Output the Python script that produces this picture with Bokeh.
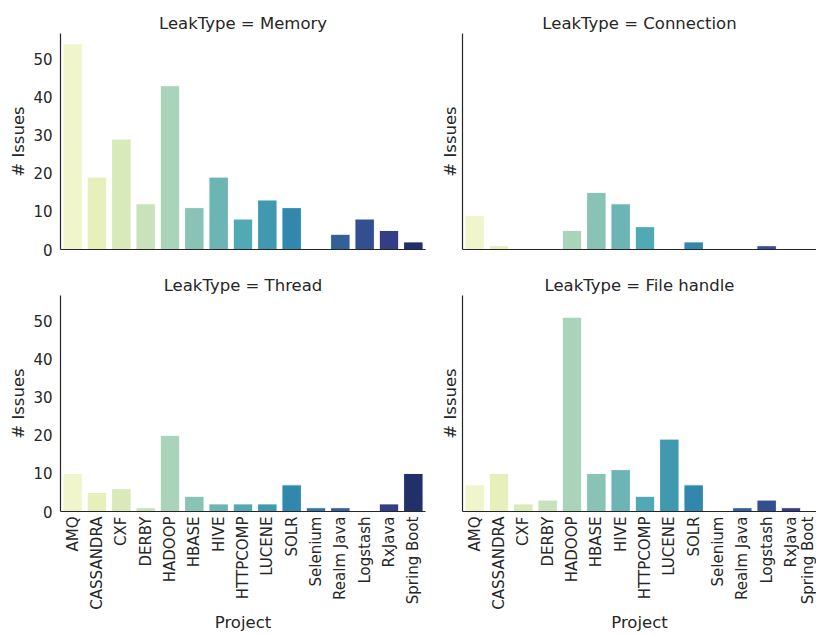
import math
import colorsys
from bokeh.plotting import figure
from bokeh.models import Range1d, FixedTicker
from bokeh.layouts import row, column
from bokeh.embed import file_html
from bokeh.resources import INLINE

projects = ["AMQ", "CASSANDRA", "CXF", "DERBY", "HADOOP", "HBASE", "HIVE", "HTTPCOMP",
            "LUCENE", "SOLR", "Selenium", "Realm Java", "Logstash", "RxJava", "Spring Boot"]
memory = [54, 19, 29, 12, 43, 11, 19, 8, 13, 11, 0, 4, 8, 5, 2]
connection = [9, 1, 0, 0, 5, 15, 12, 6, 0, 2, 0, 0, 1, 0, 0]
thread = [10, 5, 6, 1, 20, 4, 2, 2, 2, 7, 1, 1, 0, 2, 10]
file_handle = [7, 10, 2, 3, 51, 10, 11, 4, 19, 7, 0, 1, 3, 1, 0]
leak_types = ["Memory", "Connection", "Thread", "File handle"]
y_ticks = [0, 10, 20, 30, 40, 50]
y_max = 56.7

# seaborn-like YlGnBu palette (15 colours, desaturated 0.75)
ylgnbu9 = ["#ffffd9", "#edf8b1", "#c7e9b4", "#7fcdbb", "#41b6c4",
           "#1d91c0", "#225ea8", "#253494", "#081d58"]


def hex2rgb(h):
    return [int(h[i:i + 2], 16) / 255 for i in (1, 3, 5)]


def cmap(x):
    pos = x * 8
    i = min(int(pos), 7)
    t = pos - i
    a, b = hex2rgb(ylgnbu9[i]), hex2rgb(ylgnbu9[i + 1])
    return [a[k] + (b[k] - a[k]) * t for k in range(3)]


def desat(rgb, p=0.75):
    h, l, s = colorsys.rgb_to_hls(*rgb)
    r, g, b = colorsys.hls_to_rgb(h, l, s * p)
    return "#%02x%02x%02x" % (round(r * 255), round(g * 255), round(b * 255))


n = len(projects)
colors = [desat(cmap((i + 1) / (n + 1))) for i in range(n)]
xs = list(range(n))

FONT = "DejaVu Sans"
DARK = "#262626"
CAT_PX = 365 / n  # pixel width of one category


def make(values, title, col, rowi, width, height, border):
    left, right, top, bottom = border
    if col == 0:
        xr = Range1d(-0.5, n - 0.5)
    else:
        frame_w = width - left - right
        xr = Range1d(-0.5, -0.5 + frame_w / CAT_PX)
    p = figure(width=width, height=height, x_range=xr, y_range=Range1d(0, y_max),
               output_backend="svg", toolbar_location=None,
               min_border_left=left, min_border_right=right,
               min_border_top=top, min_border_bottom=bottom)
    p.outline_line_color = None
    p.background_fill_color = "white"
    p.border_fill_color = "white"
    p.xgrid.visible = False
    p.ygrid.visible = False
    p.vbar(x=xs, top=values, width=0.8, fill_color=colors, line_color="white",
           line_width=1)
    p.title.text = title
    p.title.align = "center"
    p.title.text_font = FONT
    p.title.text_font_size = "16.5px"
    p.title.text_font_style = "normal"
    p.title.text_color = DARK
    p.title.standoff = 2

    for ax in (p.xaxis[0], p.yaxis[0]):
        ax.axis_line_color = DARK
        ax.axis_line_width = 1.2
        ax.major_tick_out = 0
        ax.major_tick_in = 0
        ax.minor_tick_out = 0
        ax.minor_tick_in = 0
        ax.major_label_text_font = FONT
        ax.major_label_text_font_size = "15px"
        ax.major_label_text_color = DARK
        ax.axis_label_text_font = FONT
        ax.axis_label_text_font_size = "16.5px"
        ax.axis_label_text_font_style = "normal"
        ax.axis_label_text_color = DARK

    ya = p.yaxis[0]
    ya.axis_label = "# Issues"
    if col == 0:
        ya.ticker = FixedTicker(ticks=y_ticks)
        ya.major_label_standoff = 8
        ya.axis_label_standoff = 2
    else:
        ya.ticker = FixedTicker(ticks=[])
        ya.major_label_standoff = 0
        ya.major_label_text_font_size = "0px"
        ya.axis_label_standoff = 3

    xa = p.xaxis[0]
    if rowi == 0:
        xa.ticker = FixedTicker(ticks=[])
        xa.major_label_standoff = 0
        xa.major_label_text_font_size = "0px"
    else:
        xa.ticker = FixedTicker(ticks=xs)
        xa.major_label_overrides = {i: projects[i] for i in xs}
        xa.major_label_orientation = math.pi / 2
        xa.major_label_standoff = 5
        xa.axis_label = "Project"
        xa.axis_label_standoff = 0
    return p


p1 = make(memory, "LeakType = " + leak_types[0], 0, 0, 436, 270, (60, 11, 33, 21))
p2 = make(connection, "LeakType = " + leak_types[1], 1, 0, 380, 270, (26, 0, 33, 21))
p3 = make(thread, "LeakType = " + leak_types[2], 0, 1, 436, 365, (60, 11, 25, 124))
p4 = make(file_handle, "LeakType = " + leak_types[3], 1, 1, 380, 365, (26, 0, 25, 124))

layout = column(row(p1, p2, spacing=0), row(p3, p4, spacing=0), spacing=0)

open("out.html", "w").write(file_html(layout, INLINE))
